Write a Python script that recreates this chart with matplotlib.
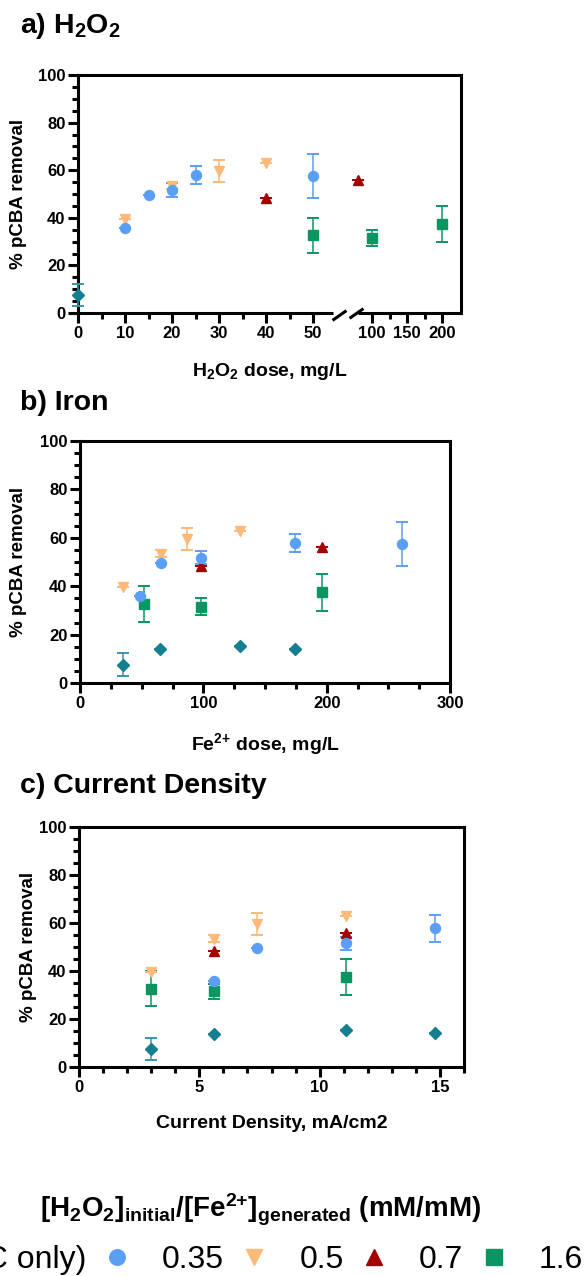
import numpy as np
import matplotlib
matplotlib.use('Agg')
import matplotlib.pyplot as plt
from matplotlib.ticker import MultipleLocator

plt.rcParams['font.family'] = 'Liberation Sans'
plt.rcParams['mathtext.fontset'] = 'custom'
plt.rcParams['mathtext.rm'] = 'Liberation Sans'
plt.rcParams['mathtext.bf'] = 'Liberation Sans:bold'
plt.rcParams['mathtext.it'] = 'Liberation Sans:italic'

# series labels / colours / markers
labels = ['0 (EC only)', '0.35', '0.5', '0.7', '1.6']
colors = ['#157f92', '#5b9ff5', '#ffb978', '#a50000', '#0b9561']
ecolors = ['#3597a8', '#5b9ff5', '#ffb978', '#a50000', '#0b9561']
markers = ['D', 'o', 'v', '^', 's']

# a) H2O2 dose (mg/L)
h2o2_ec, rem_ec_a, err_ec_a = [0], [7.5], [4.7]
h2o2_035 = [10, 15, 20, 25, 50]
rem_035_a = [35.8, 49.5, 51.7, 57.9, 57.5]
err_035_a = [0, 0, 2.8, 3.8, 9.1]
h2o2_05 = [10, 20, 30, 40]
rem_05_a = [39.5, 53.5, 59.7, 63.0]
err_05_a = [0, 1.3, 4.5, 0]
h2o2_07 = [40, 80]
rem_07_a = [48.5, 56.0]
err_07_a = [0, 0]
h2o2_16 = [50, 100, 200]
rem_16_a = [32.7, 31.6, 37.4]
err_16_a = [7.3, 3.4, 7.6]

# b) Fe2+ dose (mg/L)
fe_ec = [35, 65, 130, 174]
rem_ec_b = [7.5, 13.9, 15.3, 14.2]
err_ec_b = [4.7, 0, 0, 0]
fe_035 = [49, 66, 98, 174, 261]
rem_035_b = [35.8, 49.5, 51.8, 57.9, 57.6]
err_035_b = [0, 0, 2.8, 3.8, 9.1]
fe_05 = [35, 66, 87, 130]
rem_05_b = [39.5, 53.5, 59.5, 63.0]
err_05_b = [0, 1.3, 4.6, 0]
fe_07 = [98, 196]
rem_07_b = [48.5, 56.0]
err_07_b = [0, 0]
fe_16 = [52, 98, 196]
rem_16_b = [32.7, 31.6, 37.4]
err_16_b = [7.3, 3.4, 7.6]

# c) current density (mA/cm2)
cd_ec = [3.0, 5.6, 11.1, 14.8]
rem_ec_c = [7.5, 13.9, 15.4, 14.1]
err_ec_c = [4.7, 0, 0, 0]
cd_035 = [5.6, 7.4, 11.1, 14.8]
rem_035_c = [35.9, 49.5, 51.6, 57.8]
err_035_c = [0, 0, 2.7, 5.6]
cd_05 = [3.0, 5.6, 7.4, 11.1]
rem_05_c = [39.5, 53.5, 59.6, 63.0]
err_05_c = [0, 1.3, 4.4, 0]
cd_07 = [5.6, 11.1]
rem_07_c = [48.4, 56.0]
err_07_c = [0, 0]
cd_16 = [3.0, 5.6, 11.1]
rem_16_c = [32.6, 31.5, 37.4]
err_16_c = [7.2, 3.1, 7.6]

panel_a = [(h2o2_ec, rem_ec_a, err_ec_a), (h2o2_035, rem_035_a, err_035_a),
           (h2o2_05, rem_05_a, err_05_a), (h2o2_07, rem_07_a, err_07_a),
           (h2o2_16, rem_16_a, err_16_a)]
panel_b = [(fe_ec, rem_ec_b, err_ec_b), (fe_035, rem_035_b, err_035_b),
           (fe_05, rem_05_b, err_05_b), (fe_07, rem_07_b, err_07_b),
           (fe_16, rem_16_b, err_16_b)]
panel_c = [(cd_ec, rem_ec_c, err_ec_c), (cd_035, rem_035_c, err_035_c),
           (cd_05, rem_05_c, err_05_c), (cd_07, rem_07_c, err_07_c),
           (cd_16, rem_16_c, err_16_c)]

msizes = [6.4, 7.2, 7.4, 7.4, 7.6]
draw_order = [4, 3, 2, 1, 0]

W, H = 587, 1276
fig = plt.figure(figsize=(W / 100, H / 100), dpi=100)


def px_axes(left, top, right, bottom):
    return fig.add_axes([left / W, 1 - bottom / H, (right - left) / W, (bottom - top) / H])


def style_axes(ax):
    for s in ax.spines.values():
        s.set_linewidth(2.2)
    ax.set_ylim(0, 100)
    ax.yaxis.set_major_locator(MultipleLocator(20))
    ax.yaxis.set_minor_locator(MultipleLocator(5))
    ax.tick_params(which='major', direction='out', length=7, width=2.2, labelsize=12, pad=2)
    ax.tick_params(which='minor', direction='out', length=4.5, width=2.2)
    for t in ax.get_xticklabels() + ax.get_yticklabels():
        t.set_fontweight('bold')
    ax.set_ylabel('% pCBA removal', fontsize=13.5, fontweight='bold')


def draw_series(ax, data):
    handles = {}
    for i in draw_order:
        x, y, e = data[i]
        eb = ax.errorbar(x, y, yerr=e, fmt=markers[i], color=colors[i], ms=msizes[i],
                         mec=colors[i], ecolor=ecolors[i], elinewidth=1.1, capsize=4,
                         capthick=1.4, clip_on=False, zorder=3)
        for art in eb.lines[1] + eb.lines[2]:
            art.set_clip_on(False)
        handles[i] = eb.lines[0]
    return [handles[i] for i in range(5)]


# ---- a) H2O2 with broken x axis
brk_x = [-1000, 55, 73, 1000]
brk_f = [-1000, 55, 58.5, 58.5 + (1000 - 73) * 0.149]


def fwd(x):
    return np.interp(x, brk_x, brk_f)


def inv(f):
    return np.interp(f, brk_f, brk_x)


ax1 = px_axes(78, 75, 461, 313)
ax1.set_xscale('function', functions=(fwd, inv))
ax1.set_xlim(0, 227)
draw_series(ax1, panel_a)
ax1.set_xticks([0, 10, 20, 30, 40, 50, 100, 150, 200])
ax1.set_xticks([5, 15, 25, 35, 45, 125, 175], minor=True)
style_axes(ax1)
ax1.spines['bottom'].set_visible(False)
tr = ax1.get_xaxis_transform()
ax1.plot([0, 54.3], [0, 0], transform=tr, color='k', lw=2.2, clip_on=False,
         solid_capstyle='butt')
ax1.plot([80.4, 227], [0, 0], transform=tr, color='k', lw=2.2, clip_on=False,
         solid_capstyle='butt')
ax1.plot([57.6, 77.4], [-0.01, 0.0], transform=tr, ls='none', marker=[(-1, -0.7), (1, 0.7)],
         ms=10, mec='k', mew=2.2, clip_on=False)
ax1.set_xlabel(r'$\mathbf{H_2O_2}$ dose, mg/L', fontsize=14, fontweight='bold')
ax1.xaxis.set_label_coords(0.5, -0.2)
ax1.yaxis.set_label_coords(-0.133, 0.5)

# ---- b) Iron
ax2 = px_axes(80, 441, 450, 683)
draw_series(ax2, panel_b)
ax2.set_xlim(0, 300)
ax2.xaxis.set_major_locator(MultipleLocator(100))
ax2.xaxis.set_minor_locator(MultipleLocator(25))
style_axes(ax2)
ax2.set_xlabel(r'$\mathbf{Fe^{2{+}}}$ dose, mg/L', fontsize=14, fontweight='bold')
ax2.xaxis.set_label_coords(0.5, -0.2)
ax2.yaxis.set_label_coords(-0.143, 0.5)

# ---- c) Current density
ax3 = px_axes(79, 827, 464, 1067)
handles = draw_series(ax3, panel_c)
ax3.set_xlim(0, 16)
ax3.xaxis.set_major_locator(MultipleLocator(5))
ax3.xaxis.set_minor_locator(MultipleLocator(1))
style_axes(ax3)
ax3.set_xlabel('Current Density, mA/cm2', fontsize=14, fontweight='bold')
ax3.xaxis.set_label_coords(0.5, -0.2)
ax3.yaxis.set_label_coords(-0.109, 0.5)

# panel titles
fig.text(20 / W, 1 - 33 / H, r'a) $\mathbf{H_2O_2}$', fontsize=20.5, fontweight='bold', va='baseline')
fig.text(20 / W, 1 - 410 / H, 'b) Iron', fontsize=20.5, fontweight='bold', va='baseline')
fig.text(20 / W, 1 - 793 / H, 'c) Current Density', fontsize=20.5, fontweight='bold', va='baseline')

# legend
fig.text(40 / W, 1 - 1218 / H,
         r'$\mathbf{[H_2O_2]_{initial}/[Fe^{2{+}}]_{generated}}$ (mM/mM)',
         fontsize=20, fontweight='bold', va='baseline')
fig.legend(handles, labels, loc='center right', bbox_to_anchor=(583 / W, 1 - 1260 / H),
           ncol=5, frameon=False, fontsize=23, handlelength=1.0, handletextpad=0.91,
           columnspacing=0.45, borderpad=0, borderaxespad=0, markerscale=1.55)

fig.savefig('out.png', dpi=100)
